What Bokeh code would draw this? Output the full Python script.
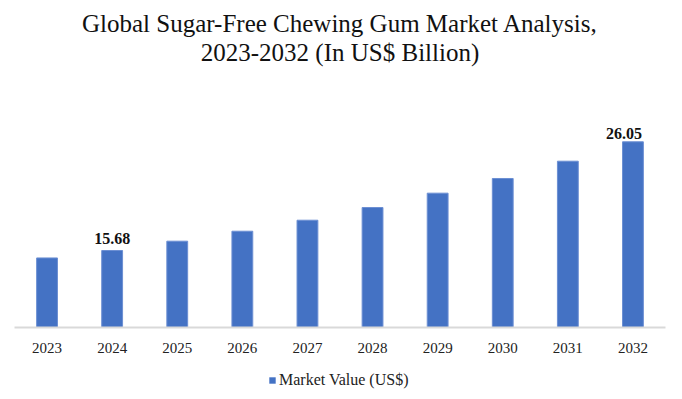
from bokeh.plotting import figure
from bokeh.layouts import column
from bokeh.models import ColumnDataSource, FactorRange, Range1d, Title, Legend, LegendItem
from bokeh.core.properties import value
from bokeh.embed import file_html
from bokeh.resources import INLINE

years = ["2023", "2024", "2025", "2026", "2027", "2028", "2029", "2030", "2031", "2032"]
market_value = [14.97, 15.68, 16.57, 17.52, 18.57, 19.78, 21.15, 22.55, 24.20, 26.05]
label_years = ["2024", "2032"]
label_values = [15.68, 26.05]
label_texts = ["15.68", "26.05"]
series_name = "Market Value (US$)"

FONT = "Liberation Serif"
BAR = "#4472C4"
EDGE = "#6c8fd3"
BASE = 8.334
TOP = 33.33

# layout-only offsets for the two value labels (pixels)
label_dx = [0, -9]
label_dy = [-12, -8]

p = figure(frame_width=651, frame_height=262, output_backend="svg", toolbar_location=None,
           x_range=FactorRange(*years, range_padding=0),
           y_range=Range1d(BASE, TOP),
           min_border_left=14, min_border_right=15, min_border_top=65, min_border_bottom=33)
p.outline_line_color = None
p.xgrid.visible = False
p.ygrid.visible = False
p.yaxis.visible = False

src = ColumnDataSource(dict(x=years, top=market_value))
p.vbar(x="x", top="top", bottom=BASE, width=0.32, source=src,
       fill_color=BAR, line_color=EDGE, line_width=1)

lsrc = ColumnDataSource(dict(x=label_years, y=label_values, t=label_texts, dx=label_dx, dy=label_dy))
p.text(x="x", y="y", text="t", source=lsrc, x_offset="dx", y_offset="dy",
       text_align="center", text_baseline="alphabetic",
       text_font=value(FONT), text_font_style="bold", text_font_size="16px", text_color="#111111")

ax = p.xaxis[0]
ax.axis_line_color = "#d9d9d9"
ax.axis_line_width = 2
ax.major_tick_line_color = None
ax.minor_tick_line_color = None
ax.major_label_standoff = 9
ax.major_label_text_font = FONT
ax.major_label_text_font_size = "15px"
ax.major_label_text_color = "#222222"

t2 = Title(text="2023-2032 (In US$ Billion)", align="center", text_font=FONT,
           text_font_size="25px", text_font_style="normal", text_color="#111111", standoff=0)
t1 = Title(text="Global Sugar-Free Chewing Gum Market Analysis,", align="center", text_font=FONT,
           text_font_size="25px", text_font_style="normal", text_color="#111111", standoff=0)
p.add_layout(t2, "above")
p.add_layout(t1, "above")

# legend strip below the chart; the key is a zero-size proxy bar that only feeds the legend swatch
lg = figure(width=680, height=37, output_backend="svg", toolbar_location=None,
            x_axis_location=None, y_axis_location=None, min_border=0,
            x_range=Range1d(0, 1), y_range=Range1d(0, 1))
lg.outline_line_color = None
lg.xgrid.visible = False
lg.ygrid.visible = False
key_src = ColumnDataSource(dict(x=[0.5], top=[0.0]))
key = lg.vbar(x="x", top="top", bottom=0.0, width=0.0, source=key_src,
              fill_color=BAR, line_color=None)
legend = Legend(items=[LegendItem(label=series_name, renderers=[key])],
                location=(254, 8), orientation="horizontal",
                label_text_font=FONT, label_text_font_size="16px", label_text_color="#222222",
                glyph_width=8, glyph_height=8, label_standoff=3,
                padding=0, margin=0, spacing=0, border_line_color=None,
                background_fill_alpha=0)
lg.add_layout(legend)

layout = column(p, lg, spacing=0)
open("out.html", "w").write(file_html(layout, INLINE))
